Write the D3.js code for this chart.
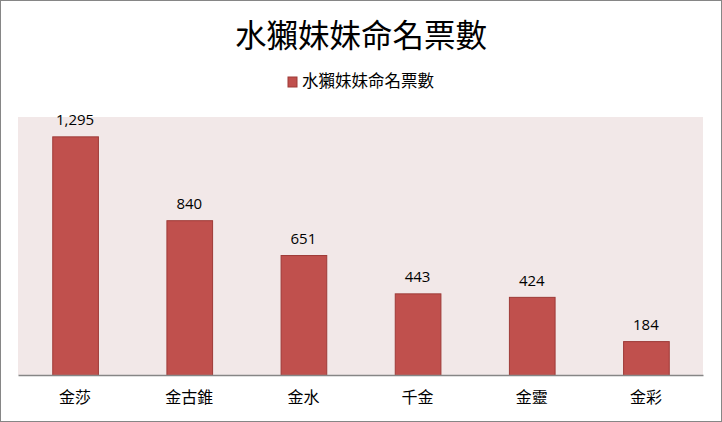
<!DOCTYPE html>
<html>
<head>
<meta charset="utf-8">
<script src="https://cdn.jsdelivr.net/npm/d3@7"></script>
<style>
  html, body { margin: 0; padding: 0; background: #fff; }
  svg { display: block; }
</style>
</head>
<body>
<script>
// 資料
const names = ["金莎", "金古錐", "金水", "千金", "金靈", "金彩"];
const votes = [1295, 840, 651, 443, 424, 184];
const seriesName = "水獺妹妹命名票數";
const chartTitle = "水獺妹妹命名票數";

const W = 722, H = 422;
const plot = { left: 18, right: 703, top: 117, bottom: 375 };

const svg = d3.select("body").append("svg")
  .attr("width", W)
  .attr("height", H);

// 外框
svg.append("rect")
  .attr("x", 0.5).attr("y", 0.5)
  .attr("width", W - 1).attr("height", H - 1)
  .attr("fill", "#fff")
  .attr("stroke", "#868686");

// 標題
svg.append("text")
  .attr("x", 361).attr("y", 47)
  .attr("text-anchor", "middle")
  .attr("font-family", "'Noto Sans CJK TC', sans-serif")
  .attr("font-size", 31.5)
  .attr("fill", "#000")
  .text(chartTitle);

// 圖例
const legend = svg.append("g");
legend.append("rect")
  .attr("x", 288).attr("y", 77)
  .attr("width", 9).attr("height", 10)
  .attr("fill", "#C0504D")
  .attr("stroke", "#9E3A37");
legend.append("text")
  .attr("x", 302).attr("y", 87)
  .attr("font-family", "'Noto Sans CJK TC', sans-serif")
  .attr("font-size", 16.5)
  .attr("fill", "#000")
  .text(seriesName);

// 繪圖區背景
svg.append("rect")
  .attr("x", plot.left).attr("y", plot.top)
  .attr("width", plot.right - plot.left)
  .attr("height", plot.bottom - plot.top)
  .attr("fill", "#F2E8E8");

const x = d3.scaleBand()
  .domain(names)
  .range([plot.left, plot.right])
  .paddingInner(0.6)
  .paddingOuter(0.3);

const y = d3.scaleLinear()
  .domain([0, 1400])
  .range([plot.bottom, plot.top]);

// 長條
svg.append("g")
  .selectAll("rect")
  .data(names)
  .join("rect")
  .attr("x", d => x(d) + 0.5)
  .attr("y", (d, i) => y(votes[i]) + 0.5)
  .attr("width", x.bandwidth())
  .attr("height", (d, i) => plot.bottom - y(votes[i]))
  .attr("fill", "#C0504D")
  .attr("stroke", "#9E3A37");

// 數值標籤
svg.append("g")
  .selectAll("text")
  .data(names)
  .join("text")
  .attr("x", d => x(d) + x.bandwidth() / 2)
  .attr("y", (d, i) => y(votes[i]) - 11)
  .attr("text-anchor", "middle")
  .attr("font-family", "'Open Sans', 'DejaVu Sans', sans-serif")
  .attr("font-size", 15)
  .attr("fill", "#000")
  .text((d, i) => d3.format(",")(votes[i]));

// X 軸
const xAxis = svg.append("g")
  .attr("transform", `translate(0,${plot.bottom})`)
  .call(d3.axisBottom(x).tickSize(0).tickPadding(17));
xAxis.select(".domain")
  .attr("stroke", "#868686")
  .attr("stroke-width", 1.5);
xAxis.selectAll("text")
  .attr("font-family", "'Noto Sans CJK TC', sans-serif")
  .attr("font-size", 16)
  .attr("fill", "#000");
</script>
</body>
</html>
